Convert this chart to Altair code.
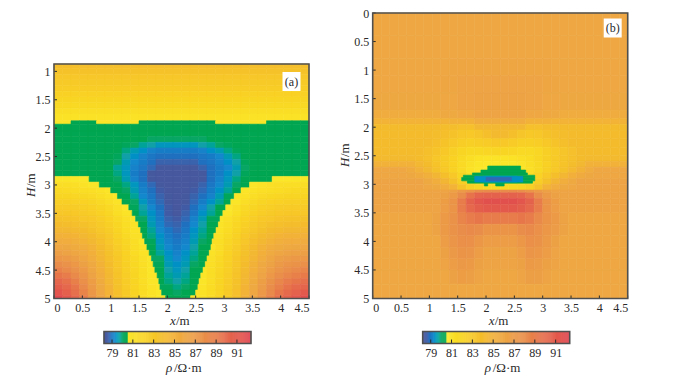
import altair as alt
import pandas as pd

FONT = "Liberation Serif"
INK = "#2a2a2a"
FRAME = "#4f4f4f"

stops = [78.2, 78.55, 78.9, 79.3, 79.7, 80.0, 80.2, 80.54, 80.55, 82, 84, 86, 88, 90, 92.35]
stop_colors = ["#4a569f", "#44599f", "#1f70bf", "#1488cc", "#10a0a8", "#08a664", "#00a651", "#00a651", "#fbe82a",
               "#f9d523", "#f4bc2c", "#eea743", "#e98e4a", "#e56a4c", "#e0434f"]

x_ticks = [0, 0.5, 1, 1.5, 2, 2.5, 3, 3.5, 4, 4.5]
a_h_ticks = [1, 1.5, 2, 2.5, 3, 3.5, 4, 4.5, 5]
b_h_ticks = [0, 0.5, 1, 1.5, 2, 2.5, 3, 3.5, 4, 4.5, 5]
bar_ticks = [79, 81, 83, 85, 87, 89, 91]

col_edges = [0, .15, .3, .45, .6, .75, .9, 1.05, 1.2, 1.35, 1.5, 1.65, 1.8, 1.95, 2.1, 2.25, 2.4, 2.55, 2.7, 2.85,
             3, 3.15, 3.3, 3.45, 3.6, 3.75, 3.9, 4.05, 4.2, 4.35, 4.5]

a_edges = [0.87, .95, 1.05, 1.15, 1.25, 1.35, 1.45, 1.55, 1.65, 1.75, 1.87, 1.93, 2.05, 2.15, 2.25, 2.35, 2.45, 2.55,
           2.65, 2.75, 2.85, 2.95, 3.05, 3.15, 3.25, 3.35, 3.45, 3.55, 3.65, 3.75, 3.85, 3.95, 4.05, 4.15, 4.25, 4.35,
           4.45, 4.55, 4.65, 4.75, 4.85, 4.95, 5]
a_rows = [
    [83.8]*30, [83.5]*30, [83.2]*30, [82.9]*30, [82.6]*30, [82.3]*30, [82]*30, [81.7]*30, [81.4]*30, [81]*30,
    [80.8]*2+[80.3]*3+[80.8]*5+[80.3]*9+[80.8]*6+[80.3]*5,
    [80.3]*30,
    [80.3]*30,
    [80.3]*11+[80]*7+[80.3]*12,
    [80.3]*8+[80.1,80,79.8,79.7,79.5,79.5,79.5,79.5,79.5,79.7,79.8,80,80.1]+[80.3]*9,
    [80.3]*8+[79.9,79.6,79.4,79.2,79.1,79.1,79.1,79.1,79.1,79.2,79.4,79.6,79.9,80.1]+[80.3]*8,
    [80.3]*7+[80.1,79.7,79.4,79.2,79,78.9,78.9,78.9,78.9,78.9,79,79.1,79.3,79.6,79.9,80.2]+[80.3]*7,
    [80.3]*7+[80,79.6,79.3,79.1,78.9,78.7,78.7,78.7,78.7,78.7,78.9,79,79.2,79.4,79.7,80.1]+[80.3]*7,
    [80.3]*6+[80.2,79.8,79.5,79.2,79,78.8,78.5,78.5,78.5,78.5,78.5,78.7,78.9,79.1,79.3,79.6,80]+[80.3]*7,
    [80.3]*6+[80.2,79.9,79.5,79.1,78.9,78.5,78.4,78.4,78.4,78.4,78.4,78.5,78.9,79.1,79.4,79.7,80.1]+[80.3]*7,
    [80.8,80.8,80.7,80.6,80.3,80.3,80.3,80,79.6,79.2,78.9,78.5,78.4,78.4,78.4,78.4,78.4,78.5,78.9,79.2,79.5,79.9,80.2,80.3,80.3,80.3,80.6,80.7,80.8,80.8],
    [81.3,81.3,81.2,81,80.8]+[80.3,80.3,80.2,79.9,79.5,79.1,78.8,78.5,78.4,78.4,78.4,78.5,78.7,79,79.3,79.6,80,80.3]+[80.8,81,81.2,81.3,81.3,81.4,81.4],
    [81.7,81.6,81.5,81.4,81.2,81,80.8]+[80.2,80,79.6,79.2,78.9,78.6,78.4,78.4,78.4,78.6,78.8,79.1,79.4,79.8,80.2]+[80.8,81,81.2,81.4,81.5,81.6,81.7,81.7],
    [82,82,81.9,81.8,81.6,81.3,81,80.8]+[80.2,79.8,79.3,79,78.7,78.5,78.4,78.5,78.7,78.9,79.2,79.6,80.1]+[80.8,81,81.3,81.6,81.8,81.9,82,82,82],
    [82.4,82.4,82.3,82.2,82,81.7,81.3,80.9]+[80.3,80,79.5,79.1,78.8,78.5,78.4,78.5,78.8,79.1,79.4,79.8,80.3]+[80.8,81.3,81.7,82,82.2,82.3,82.4,82.4,82.4],
    [82.8,82.8,82.7,82.5,82.3,82,81.7,81.2,80.8]+[80.1,79.7,79.3,78.9,78.6,78.4,78.6,78.9,79.3,79.7,80.2]+[80.7,81.2,81.7,82,82.3,82.5,82.7,82.8,82.8,82.8],
    [83.2,83.1,83,82.9,82.6,82.3,81.9,81.4,80.9]+[80.3,79.8,79.4,79,78.6,78.4,78.7,79,79.4,79.8,80.3]+[80.8,81.4,81.9,82.3,82.6,82.9,83,83.1,83.1,83.2],
    [83.6,83.5,83.4,83.2,83,82.6,82.2,81.7,81.2,80.8]+[80,79.5,79.1,78.7,78.6,78.8,79.2,79.6,80.1]+[80.8,81.2,81.7,82.2,82.6,83,83.2,83.4,83.5,83.5,83.6],
    [84,83.9,83.8,83.6,83.3,82.9,82.4,81.9,81.4,80.9]+[80.2,79.6,79.2,78.8,78.7,78.9,79.3,79.7,80.2]+[80.9,81.4,81.9,82.4,82.9,83.3,83.6,83.8,83.9,83.9,84],
    [84.5,84.4,84.2,84,83.6,83.2,82.7,82.1,81.5,81]+[80.3,79.8,79.3,79,78.8,79,79.4,79.8,80.3]+[81,81.5,82.1,82.7,83.2,83.6,84,84.2,84.4,84.4,84.5],
    [85,84.9,84.7,84.4,84,83.5,83,82.3,81.7,81.1]+[80.4,79.9,79.4,79.1,78.9,79.1,79.5,79.9,80.3]+[81.1,81.7,82.3,83,83.5,84,84.4,84.7,84.9,84.9,85],
    [85.5,85.4,85.2,84.8,84.4,83.8,83.2,82.5,81.9,81.3,80.8]+[80.1,79.5,79.2,79,79.2,79.6,80,80.4]+[81.3,81.9,82.5,83.2,83.8,84.4,84.8,85.2,85.4,85.4,85.5],
    [86,85.9,85.6,85.3,84.8,84.1,83.4,82.7,82.1,81.4,80.9]+[80.2,79.6,79.3,79.1,79.3,79.7,80.2]+[80.8,81.4,82.1,82.7,83.4,84.1,84.8,85.3,85.6,85.8,85.9,86],
    [86.6,86.4,86.1,85.7,85.1,84.4,83.6,82.9,82.2,81.5,81]+[80.3,79.8,79.4,79.2,79.4,79.8,80.3]+[81,81.5,82.2,82.9,83.6,84.4,85.1,85.7,86.1,86.4,86.5,86.6],
    [87.3,87,86.6,86.1,85.4,84.6,83.8,83.1,82.3,81.7,81.1,80.7]+[80,79.5,79.3,79.5,79.9,80.4]+[81.1,81.7,82.3,83.1,83.8,84.6,85.4,86.1,86.6,86.9,87.1,87.2],
    [88,87.7,87.2,86.5,85.8,84.9,84,83.2,82.4,81.8,81.2,80.8]+[80.1,79.6,79.4,79.6,80,80.4]+[81.2,81.8,82.4,83.2,84,84.9,85.8,86.4,87,87.4,87.6,87.8],
    [88.7,88.3,87.7,87,86.1,85.1,84.2,83.3,82.5,81.9,81.3,80.8]+[80.2,79.7,79.5,79.7,80.2]+[80.8,81.3,81.9,82.5,83.3,84.2,85.1,86,86.8,87.4,87.9,88.2,88.5],
    [89.4,89,88.3,87.4,86.4,85.4,84.4,83.4,82.6,82,81.4,80.8]+[80.2,79.8,79.6,79.8,80.3]+[80.8,81.4,82,82.6,83.4,84.4,85.4,86.3,87.2,87.9,88.4,88.8,89.1],
    [90.1,89.6,88.8,87.8,86.7,85.6,84.5,83.5,82.7,82,81.4,80.8]+[80.3,79.9,79.7,79.9,80.3]+[80.8,81.4,82,82.7,83.5,84.5,85.6,86.6,87.6,88.4,89,89.4,89.7],
    [90.8,90.2,89.3,88.2,87,85.8,84.7,83.6,82.8,82.1,81.5,80.9,80.7]+[80.1,79.9,80,80.4]+[80.9,81.5,82.1,82.8,83.6,84.7,85.8,86.9,88,88.8,89.5,90,90.3],
    [91.4,90.7,89.7,88.6,87.3,86,84.8,83.7,82.9,82.1,81.5,81,80.7]+[80.2,80,80.2,80.4]+[81,81.5,82.1,82.9,83.7,84.8,86,87.2,88.3,89.3,90,90.6,91],
    [92,91.2,90.2,89,87.6,86.2,85,83.8,83,82.2,81.6,81,80.7]+[80.3,80.2,80.3]+[80.7,81,81.6,82.2,83,83.8,85,86.2,87.5,88.7,89.7,90.5,91.1,91.6],
]
# exact left and right edge of the green zone in the rows from H = 2.9 to H = 5.0 of panel (a)
a_bound_first_row = 20
a_bound_left = [.62, .8, 1.0, 1.12, 1.2, 1.32, 1.38, 1.44, 1.49, 1.53, 1.56, 1.6, 1.64, 1.68, 1.72, 1.75, 1.78, 1.82,
                1.85, 1.87, 1.9, 1.97]
a_bound_right = [3.85, 3.45, 3.3, 3.18, 3.12, 3.03, 2.98, 2.93, 2.9, 2.86, 2.82, 2.79, 2.77, 2.74, 2.7, 2.67, 2.63,
                 2.59, 2.56, 2.54, 2.5, 2.41]

b_edges = [0, .4, .8, 1.1, 1.4, 1.7, 1.85, 1.95, 2.05, 2.2, 2.35, 2.5, 2.6, 2.7, 2.8, 2.9, 3, 3.1, 3.15, 3.25, 3.35,
           3.5, 3.7, 3.9, 4.1, 4.3, 4.5, 4.75, 5]
b_rows = [
    [86]*30,
    [86]*30,
    [86]*9+[86.1]*12+[86]*9,
    [86]*8+[86.1]*2+[86.2]*2+[86.3]*6+[86.2]*2+[86.1]*2+[86]*8,
    [85.9]*8+[86]*2+[86.2]*2+[86.4]*6+[86.2]*2+[86]*2+[85.9]*8,
    [85.5]*8+[85.8]*2+[86]*2+[86.2]*6+[86]*2+[85.8]*2+[85.5]*8,
    [84.8]*9+[85]*3+[85.5]*6+[85]*3+[84.8]*9,
    [84.1]*8+[83.9]*2+[83.7]*2+[84.4]*6+[83.7]*2+[83.9]*2+[84.1]*8,
    [84]*7+[83.9,83.8,83.5,83.2,83,83.3,83.8,84.2,84.2,83.8,83.3,83,83.2,83.5,83.8,83.9,84]+[84]*6,
    [84]*7+[83.8,83.4,83,82.6,82.4,82.6,82.8,83,83,82.8,82.5,82.4,82.6,83,83.4,83.8,84]+[84]*6,
    [84]*6+[83.8,83.4,83,82.5,82,81.8,81.8,81.9,82,82,81.9,81.7,81.7,81.9,82.4,82.9,83.3,83.7]+[84]*6,
    [84.2]*5+[84,83.7,83.2,82.7,82.2,81.7,81.3,81,80.9,80.9,80.9,81,81.2,81.5,81.9,82.4,82.9,83.3,83.7,84]+[84.2]*5,
    [85]*5+[84.5,84,83.4,82.8,82.2,81.6,81.1,80.8,80.7,80.7,80.7,80.7,80.9,81.3,81.8,82.3,82.9,83.4,83.9,84.4]+[85]*5,
    [86]*4+[85.6,85,84.4,83.6,83,82.3,81.6,81,80.7,80.6,80.6,80.6,80.6,80.8,81.2,81.8,82.4,83,83.6,84.3,84.9,85.5]+[86]*4,
    [86]*4+[85.9,85.6,85.2,84.6,83.8,83,82,81.2,81,80.8,80.8,80.8,80.8,81,81.4,82.2,83,83.8,84.5,85.1,85.6,85.9]+[86]*4,
    [86.2]*6+[85.8,85.3,84.6,83.6,82.4,81.6,81.2,81,81,81,81,81.2,81.7,82.6,83.6,84.6,85.3,85.8]+[86.2]*6,
    [86.2]*6+[86,85.8,85.4,84.8,83.5,82.5,82,81.8,81.8,81.8,81.8,82,82.5,83.5,84.8,85.4,85.8,86]+[86.2]*6,
    [86.2]*8+[86.2,86.5,87,87.5,88,88.2,88.2,88.2,88.2,88,87.5,87,86.5,86.2]+[86.2]*8,
    [86.2]*8+[86.5,87,88,89.5,90.4,90.6,90.6,90.6,90.6,90.4,89.5,88,87,86.5]+[86.2]*8,
    [86.2]*8+[86.7,87.5,89,90.5,91.3,91.6,91.6,91.6,91.6,91.3,90.5,89,87.5,86.7]+[86.2]*8,
    [86.2]*8+[86.8,87.5,89,90.2,90.8,91,91,91,91,90.8,90.2,89,87.5,86.8]+[86.2]*8,
    [86]*7+[86.4,87,87.6,88.5,89,89.3,89,89,89,89,89.3,89,88.3,87.5,87,86.4]+[86]*7,
    [86]*7+[86.4,87,87.6,88,88.2,88,87.5,87.5,87.5,87.5,88,88.2,87.8,87.3,86.9,86.4]+[86]*7,
    [86]*8+[86.8,87.4,87.8,87.8,87.3,86.8,86.8,86.8,86.8,87.3,87.8,87.6,87,86.5]+[86]*8,
    [86]*8+[86.5,87.1,87.5,87.4,86.8,86.4,86.4,86.4,86.4,86.8,87.4,87.3,86.8,86.3]+[86]*8,
    [86]*8+[86.3,86.8,87.1,87,86.5,86.2,86.2,86.2,86.2,86.5,87,86.9,86.5,86.2]+[86]*8,
    [86]*9+[86.5,86.7,86.6,86.2]+[86]*4+[86.2,86.6,86.6,86.3]+[86]*9,
    [86]*30,
]

# the pixelated low-resistivity lens in panel (b): rows of runs, painted in order
blob_h0 = [2.68, 2.75, 2.80, 2.84, 2.88, 2.94, 2.98, 2.98, 2.85, 2.86, 2.88]
blob_h1 = [2.75, 2.80, 2.84, 2.88, 2.94, 2.98, 3.03, 3.03, 2.97, 2.96, 2.94]
blob_x0 = [2.03, 1.91, 1.76, 1.60, 1.57, 1.67, 1.97, 2.17, 1.95, 1.80, 2.00]
blob_x1 = [2.61, 2.70, 2.73, 2.86, 2.86, 2.82, 2.03, 2.32, 2.55, 2.65, 2.45]
blob_v = [80.3, 80.3, 80.3, 80.3, 80.3, 80.3, 80.3, 80.3, 79.9, 79.4, 78.8]

bar_edges = [78.23 + 0.1 * i for i in range(142)]
bar_lo, bar_hi = 78.23, 92.35


def grid(edges, rows, first=None, lefts=(), rights=()):
    recs = []
    for j, row in enumerate(rows):
        ce = list(col_edges)
        if first is not None and j >= first:
            n_left = 0
            while row[n_left] >= 80.55:
                n_left += 1
            n_right = len(row)
            while row[n_right - 1] >= 80.55:
                n_right -= 1
            ce[n_left] = lefts[j - first]
            ce[n_right] = rights[j - first]
        for i, v in enumerate(row):
            recs.append(dict(x0=ce[i], x1=ce[i + 1], h0=edges[j], h1=edges[j + 1], v=v, seq=0))
    return recs


def label(text, style, px, py, size=13, angle=0):
    kw = dict(text=text, font=FONT, fontSize=size, color=INK, align="left", baseline="middle", angle=angle)
    if style:
        kw["fontStyle"] = style
    return alt.Chart(pd.DataFrame({"a": [0]})).mark_text(**kw).encode(x=alt.value(px), y=alt.value(py))


WIDTH, HEIGHT = 255, 285.5


def panel(recs, h_domain, y_top, h_ticks, tag, tag_x, tag_y, h_x, h_y):
    xs = alt.Scale(domain=[0, 4.5], range=[0, WIDTH])
    ys = alt.Scale(domain=h_domain, range=[y_top, HEIGHT])
    color = alt.Scale(domain=stops, range=stop_colors, clamp=True)
    ax_x = alt.Axis(values=x_ticks, format="~g", grid=False, domain=False, ticks=False, labelPadding=4,
                    labelFont=FONT, labelFontSize=12, labelColor=INK, labelOverlap=False, title=None)
    ax_y = alt.Axis(values=h_ticks, format="~g", grid=False, domain=False, ticks=False, labelPadding=4,
                    labelFont=FONT, labelFontSize=12, labelColor=INK, labelOverlap=False, title=None)
    heat = alt.Chart(pd.DataFrame(recs)).mark_rect(strokeWidth=0.6).encode(
        x=alt.X("x0:Q", scale=xs, axis=ax_x), x2="x1:Q",
        y=alt.Y("h0:Q", scale=ys, axis=ax_y), y2="h1:Q",
        fill=alt.Fill("v:Q", scale=color, legend=None),
        stroke=alt.Stroke("v:Q", scale=color, legend=None),
        order=alt.Order("seq:Q"),
    )
    xt = alt.Chart(pd.DataFrame({"t": x_ticks})).mark_rule(color=INK, strokeWidth=1).encode(
        x=alt.X("t:Q", scale=xs, axis=ax_x), y=alt.value(HEIGHT - 3), y2=alt.value(HEIGHT))
    yt = alt.Chart(pd.DataFrame({"t": h_ticks})).mark_rule(color=INK, strokeWidth=1).encode(
        y=alt.Y("t:Q", scale=ys, axis=ax_y), x=alt.value(0), x2=alt.value(3))
    frame = alt.Chart(pd.DataFrame({"a": [0]})).mark_rect(fillOpacity=0, stroke=FRAME, strokeWidth=1.6).encode(
        x=alt.value(0), x2=alt.value(WIDTH), y=alt.value(y_top), y2=alt.value(HEIGHT))
    box = alt.Chart(pd.DataFrame({"a": [0]})).mark_rect(fill="white").encode(
        x=alt.value(tag_x - 9), x2=alt.value(tag_x + 9), y=alt.value(tag_y - 9.5), y2=alt.value(tag_y + 9.5))
    tag_text = alt.Chart(pd.DataFrame({"a": [0]})).mark_text(
        text=tag, font=FONT, fontSize=12, color=INK, align="center", baseline="middle"
    ).encode(x=alt.value(tag_x), y=alt.value(tag_y))
    return alt.layer(
        heat, xt, yt, frame, box, tag_text,
        label("x", "italic", 116, HEIGHT + 22.5),
        label("/m", None, 122, HEIGHT + 22.5),
        label("H", "italic", h_x, h_y, angle=270),
        label("/m", None, h_x, h_y - 10, angle=270),
    ).properties(width=WIDTH, height=HEIGHT)


def colorbar():
    xs = alt.Scale(domain=[bar_lo, bar_hi], range=[50, 197])
    color = alt.Scale(domain=stops, range=stop_colors, clamp=True)
    df = pd.DataFrame({"lo": bar_edges[:-1], "hi": bar_edges[1:]})
    df["v"] = (df.lo + df.hi) / 2
    ax = alt.Axis(values=bar_ticks, format="~g", grid=False, domain=False, ticks=False, labelPadding=4,
                  labelFont=FONT, labelFontSize=12, labelColor=INK, title=None)
    ramp = alt.Chart(df).mark_rect(strokeWidth=0.4).encode(
        x=alt.X("lo:Q", scale=xs, axis=ax), x2="hi:Q", y=alt.value(0), y2=alt.value(12),
        fill=alt.Fill("v:Q", scale=color, legend=None), stroke=alt.Stroke("v:Q", scale=color, legend=None))
    ticks = alt.Chart(pd.DataFrame({"t": bar_ticks})).mark_rule(color=INK, strokeWidth=1).encode(
        x=alt.X("t:Q", scale=xs, axis=ax), y=alt.value(8), y2=alt.value(12))
    frame = alt.Chart(pd.DataFrame({"a": [0]})).mark_rect(fillOpacity=0, stroke=FRAME, strokeWidth=1.6).encode(
        x=alt.value(50), x2=alt.value(197), y=alt.value(0), y2=alt.value(12))
    return alt.layer(
        ramp, ticks, frame,
        label("ρ", "italic", 112, 36.5, size=13),
        label("/Ω·m", None, 120, 36.5, size=13),
    ).properties(width=WIDTH, height=12)


a_recs = grid(a_edges, a_rows, a_bound_first_row, a_bound_left, a_bound_right)
b_recs = grid(b_edges, b_rows)
for k in range(len(blob_v)):
    b_recs.append(dict(x0=blob_x0[k], x1=blob_x1[k], h0=blob_h0[k], h1=blob_h1[k], v=blob_v[k], seq=k + 1))

chart = alt.concat(
    panel(a_recs, [0.87, 5], 51, a_h_ticks, "(a)", 237.5, 68.5, -23, 184),
    panel(b_recs, [0, 5], 0, b_h_ticks, "(b)", 240, 15, -28, 154),
    colorbar(), colorbar(),
    columns=2, spacing={"row": 32.5, "column": 63.7}, bounds="flush",
).properties(
    padding={"left": 17, "top": -1, "right": 0, "bottom": 0}
).configure_view(stroke=None)

chart.save("out.html", embed_options={"renderer": "svg", "actions": False})
